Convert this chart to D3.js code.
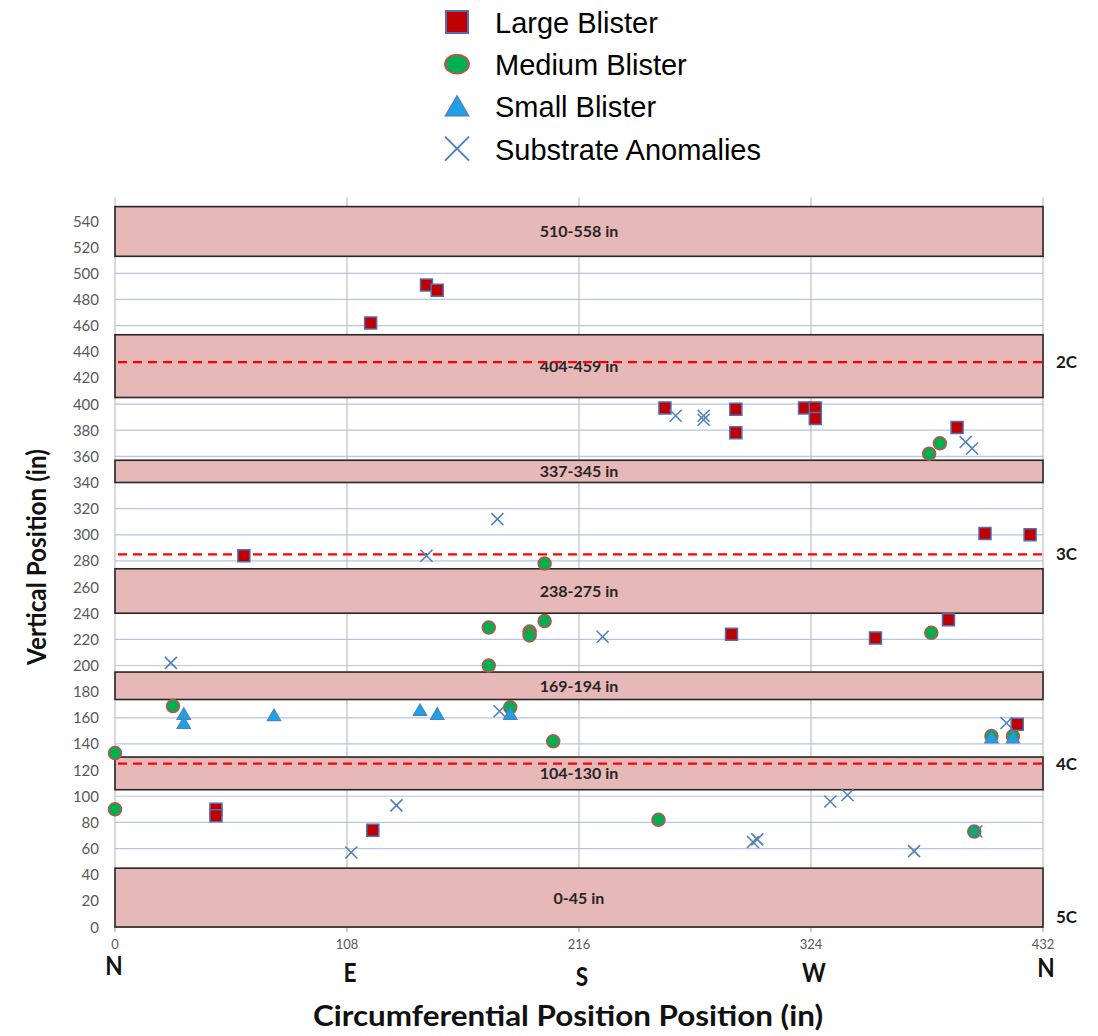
<!DOCTYPE html>
<html>
<head>
<meta charset="utf-8">
<script src="https://cdn.jsdelivr.net/npm/d3@7"></script>
<style>
  body { margin: 0; background: #fff; }
  svg { display: block; }
</style>
</head>
<body>
<svg id="chart" width="1098" height="1036"></svg>
<script>
// circumferential position (in) , vertical position (in)
const largeBlister = [
  [119, 462], [145, 491], [150, 487], [256, 397], [289, 396], [289, 378],
  [321, 397], [326, 397], [326, 389], [392, 382], [405, 301], [426, 300],
  [60, 284], [287, 224], [354, 221], [388, 235], [420, 155], [47, 90],
  [47, 85], [120, 74]
];
const mediumBlister = [
  [379, 362], [384, 370], [200, 278], [174, 229], [174, 200], [193, 226],
  [193, 223], [200, 234], [380, 225], [27, 169], [0, 133], [0, 90],
  [184, 168], [204, 142], [253, 82], [400, 73], [408, 146], [418, 146]
];
const smallBlister = [
  [32, 163], [32, 156], [74, 162], [142, 166], [150, 163], [184, 163],
  [408, 145], [418, 145]
];
const substrateAnomalies = [
  [261, 391], [274, 391], [274, 388], [396, 371], [399, 366], [178, 312],
  [145, 284], [26, 202], [227, 222], [179, 165], [131, 93], [110, 57],
  [297, 65], [299, 67], [333, 96], [341, 101], [372, 58], [401, 73], [415, 156]
];

// shaded bands: drawn extent [bottom, top] and their label
const bands = [
  { lo: 513, hi: 551, label: "510-558 in" },
  { lo: 405, hi: 453, label: "404-459 in" },
  { lo: 340, hi: 357, label: "337-345 in" },
  { lo: 240, hi: 274, label: "238-275 in" },
  { lo: 174, hi: 195, label: "169-194 in" },
  { lo: 105, hi: 130, label: "104-130 in" },
  { lo: 0, hi: 45, label: "0-45 in" }
];
const courseLines = [
  { v: 432, label: "2C" },
  { v: 285, label: "3C" },
  { v: 125, label: "4C" }
];
const courseLabels = [
  { v: 432, label: "2C" },
  { v: 285, label: "3C" },
  { v: 125, label: "4C" },
  { v: 8, label: "5C" }
];
const xTicks = [0, 108, 216, 324, 432];
const compass = ["N", "E", "S", "W", "N"];
const yTicks = d3.range(0, 541, 20);

const svg = d3.select("#chart");
const x = d3.scaleLinear().domain([0, 432]).range([115, 1043]);
const y = d3.scaleLinear().domain([0, 540]).range([927, 221]);

const redFill = "#c00000", blueEdge = "#4f6fb5";
const greenFill = "#00b050", brownEdge = "#c0504d";
const cyanFill = "#1aa3e8", cyanEdge = "#4f81bd";
const xColor = "#4f81bd";
const font = "Lato, 'Open Sans', sans-serif";

// gridlines
svg.append("g").selectAll("line").data(yTicks).join("line")
  .attr("x1", x(0)).attr("x2", x(432))
  .attr("y1", d => y(d)).attr("y2", d => y(d))
  .attr("stroke", "#b4c6e4").attr("stroke-width", 1.2);

svg.append("g").selectAll("line").data(xTicks).join("line")
  .attr("x1", d => x(d)).attr("x2", d => x(d))
  .attr("y1", y(558)).attr("y2", y(0))
  .attr("stroke", "#b3b3b3").attr("stroke-width", 1);

// bottom axis line + ticks
svg.append("line").attr("x1", x(0)).attr("x2", x(432))
  .attr("y1", y(0)).attr("y2", y(0)).attr("stroke", "#9a9a9a");
svg.append("g").selectAll("line").data(xTicks).join("line")
  .attr("x1", d => x(d)).attr("x2", d => x(d))
  .attr("y1", y(0)).attr("y2", y(0) + 5).attr("stroke", "#9a9a9a");

// bands
const bandG = svg.append("g");
bandG.selectAll("rect").data(bands).join("rect")
  .attr("x", x(0)).attr("width", x(432) - x(0))
  .attr("y", d => y(d.hi)).attr("height", d => y(d.lo) - y(d.hi))
  .attr("fill", "#e6b8b8").attr("stroke", "#262626").attr("stroke-width", 1.6);
bandG.selectAll("text").data(bands).join("text")
  .attr("x", x(216)).attr("y", d => (y(d.hi) + y(d.lo)) / 2 + 6)
  .attr("text-anchor", "middle")
  .style("font-family", font)
  .style("font-weight", "bold").style("font-size", "16px")
  .attr("fill", "#262626").text(d => d.label);

// dashed course lines
svg.append("g").selectAll("line").data(courseLines).join("line")
  .attr("x1", x(0) + 3).attr("x2", x(432) + 5)
  .attr("y1", d => y(d.v)).attr("y2", d => y(d.v))
  .attr("stroke", "#ff0000").attr("stroke-width", 2.2)
  .attr("stroke-dasharray", "9,6");
svg.append("g").selectAll("text").data(courseLabels).join("text")
  .attr("x", 1056).attr("y", d => y(d.v) + 6)
  .style("font-family", font)
  .style("font-weight", "bold").style("font-size", "17px")
  .attr("fill", "#1a1a1a").text(d => d.label);

// y tick labels
svg.append("g").selectAll("text").data(yTicks).join("text")
  .attr("x", 99).attr("y", d => y(d) + 5.5)
  .attr("text-anchor", "end")
  .style("font-family", font).style("font-size", "15px")
  .attr("fill", "#595959").text(d => d);

// x tick labels and compass points
svg.append("g").selectAll("text").data(xTicks).join("text")
  .attr("x", d => x(d)).attr("y", 949)
  .attr("text-anchor", "middle")
  .style("font-family", font).style("font-size", "13px")
  .attr("fill", "#595959").text(d => d);
const compassBase = [975, 982, 986, 982, 977];
svg.append("g").selectAll("text").data(xTicks).join("text")
  .attr("transform", (d, i) => `translate(${x(d) + (i === 0 ? -1 : 3)},${compassBase[i]}) scale(0.84,1)`)
  .attr("text-anchor", "middle")
  .style("font-family", font)
  .style("font-weight", "bold").style("font-size", "27px")
  .attr("fill", "#111").text((d, i) => compass[i]);

// axis titles
svg.append("text")
  .attr("transform", "translate(46,557) rotate(-90)")
  .attr("text-anchor", "middle")
  .attr("textLength", 216).attr("lengthAdjust", "spacingAndGlyphs")
  .style("font-family", font)
  .style("font-weight", "bold").style("font-size", "26px")
  .attr("fill", "#111").text("Vertical Position (in)");
svg.append("text")
  .attr("x", 568).attr("y", 1026)
  .attr("text-anchor", "middle")
  .attr("textLength", 510).attr("lengthAdjust", "spacingAndGlyphs")
  .style("font-family", font)
  .style("font-weight", "bold").style("font-size", "28px")
  .attr("fill", "#111").text("Circumferential Position Position (in)");

// marker shapes
const squarePath = s => `M${-s / 2},${-s / 2}h${s}v${s}h${-s}Z`;
const triPath = s => `M0,${-s * 0.5}L${s * 0.55},${s * 0.45}L${-s * 0.55},${s * 0.45}Z`;
const crossPath = s => `M${-s / 2},${-s / 2}L${s / 2},${s / 2}M${s / 2},${-s / 2}L${-s / 2},${s / 2}`;

const pts = svg.append("g");
pts.selectAll(".med").data(mediumBlister).join("circle").attr("class", "med")
  .attr("cx", d => x(d[0])).attr("cy", d => y(d[1])).attr("r", 6.5)
  .attr("fill", greenFill).attr("stroke", brownEdge).attr("stroke-width", 1.5);
pts.selectAll(".small").data(smallBlister).join("path").attr("class", "small")
  .attr("transform", d => `translate(${x(d[0])},${y(d[1])})`)
  .attr("d", triPath(12))
  .attr("fill", cyanFill).attr("stroke", cyanEdge).attr("stroke-width", 1.3);
pts.selectAll(".large").data(largeBlister).join("path").attr("class", "large")
  .attr("transform", d => `translate(${x(d[0])},${y(d[1])})`)
  .attr("d", squarePath(12))
  .attr("fill", redFill).attr("stroke", blueEdge).attr("stroke-width", 1.5);
pts.selectAll(".sub").data(substrateAnomalies).join("path").attr("class", "sub")
  .attr("transform", d => `translate(${x(d[0])},${y(d[1])})`)
  .attr("d", crossPath(12))
  .attr("fill", "none").attr("stroke", xColor).attr("stroke-width", 1.6);

// legend
const legendItems = [
  { label: "Large Blister", kind: "square" },
  { label: "Medium Blister", kind: "circle" },
  { label: "Small Blister", kind: "triangle" },
  { label: "Substrate Anomalies", kind: "cross" }
];
const leg = svg.append("g");
legendItems.forEach((it, i) => {
  const cy = 22 + i * 42.2;
  const g = leg.append("g").attr("transform", `translate(457,${cy})`);
  if (it.kind === "square") {
    g.append("path").attr("d", squarePath(22)).attr("fill", redFill)
      .attr("stroke", blueEdge).attr("stroke-width", 2);
  } else if (it.kind === "circle") {
    g.append("ellipse").attr("rx", 12).attr("ry", 9.5).attr("fill", greenFill)
      .attr("stroke", brownEdge).attr("stroke-width", 1.8);
  } else if (it.kind === "triangle") {
    g.append("path").attr("d", triPath(21)).attr("fill", cyanFill)
      .attr("stroke", cyanEdge).attr("stroke-width", 1.5);
  } else {
    g.append("path").attr("d", crossPath(24)).attr("fill", "none")
      .attr("stroke", xColor).attr("stroke-width", 2);
  }
  leg.append("text").attr("x", 495).attr("y", cy + 11)
    .style("font-family", "'Liberation Sans', Arial, sans-serif")
    .style("font-size", "29px").attr("fill", "#000").text(it.label);
});
</script>
</body>
</html>
